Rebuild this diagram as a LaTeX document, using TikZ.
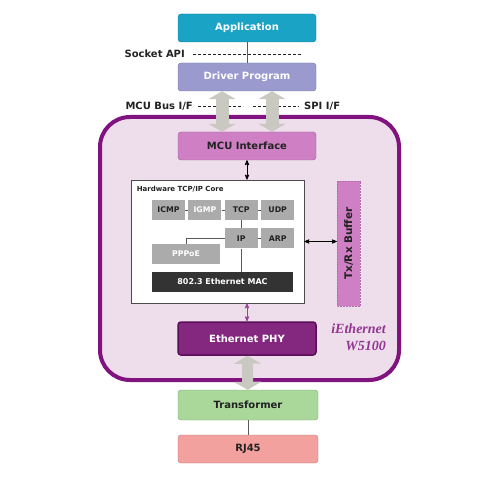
\documentclass[tikz,border=0pt]{standalone}
\usepackage{fontspec}
\setmainfont{DejaVu Sans}
\newfontfamily\logofont{Liberation Serif}
\usetikzlibrary{arrows,arrows.meta,positioning}

\definecolor{appblue}{HTML}{1AA3C4}
\definecolor{drvblue}{HTML}{9A9ACF}
\definecolor{mcupink}{HTML}{CF80C5}
\definecolor{phypurple}{HTML}{84287F}
\definecolor{trgreen}{HTML}{AAD89B}
\definecolor{rjred}{HTML}{F3A19E}
\definecolor{chipline}{HTML}{80137F}
\definecolor{chipfill}{HTML}{EEDDEA}
\definecolor{protogray}{HTML}{ABABAB}
\definecolor{arrowgray}{HTML}{C9C9C2}
\definecolor{textdark}{HTML}{222222}

\tikzset{
  layer/.style={draw=#1!75!black, fill=#1, rounded corners=3pt, minimum width=138pt,
                minimum height=28pt, inner sep=0pt, text=textdark,
                font=\bfseries\fontsize{10}{12}\selectfont},
  proto/.style={fill=protogray, minimum width=33pt, minimum height=20pt, inner sep=0pt,
                text=textdark, font=\bfseries\fontsize{7.8}{9}\selectfont},
  lbl/.style={inner sep=0pt, text=textdark, font=\bfseries\fontsize{10}{12}\selectfont},
  wire/.style={draw=black!65, line width=0.8pt},
  guide/.style={draw=textdark, dashed, dash pattern=on 3pt off 2pt, line width=0.7pt},
  fat/.style={draw=arrowgray, line width=13pt,
              {Triangle[length=8pt,width=27pt]}-{Triangle[length=8pt,width=27pt]}},
  link/.style={<->, line width=0.8pt}
}

\begin{document}
\begin{tikzpicture}[x=1pt,y=-1pt,>=stealth',node distance=3pt]
    \useasboundingbox (0,0) rectangle (500,478);

    % W5100 chip
    \node[draw=chipline, fill=chipfill, line width=4pt, rounded corners=30pt,
          minimum width=299pt, minimum height=263pt] (chip) at (249.5,248.5) {};

    \node[layer=appblue, text=white] (app) at (247,28) {Application};
    \node[layer=drvblue, text=white] (drv) at (247,77) {Driver Program};
    \node[layer=mcupink] (mcu) at (247,146) {MCU Interface};

    % TCP/IP core
    \node[draw=black!70, fill=white, line width=0.8pt, minimum width=173pt,
          minimum height=123pt] (core) at (217.5,241.5) {};
    \node[anchor=north west, inner sep=0pt, text=textdark,
          font=\bfseries\fontsize{7}{8}\selectfont] (coretitle)
          at ([xshift=6pt,yshift=-6pt]core.north west) {Hardware TCP/IP Core};

    \node[proto] (icmp) at (168.5,210) {ICMP};
    \node[proto, text=white] (igmp) [right=of icmp] {IGMP};
    \node[proto] (tcp) [right=of igmp] {TCP};
    \node[proto] (udp) [right=of tcp] {UDP};
    \node[proto] (ip) [below=8pt of tcp] {IP};
    \node[proto] (arp) [right=of ip] {ARP};
    \node[proto, text=white, minimum width=68pt] (pppoe) at (186,254) {PPPoE};
    \node[proto, fill=black!80, text=white, minimum width=141pt,
          font=\bfseries\fontsize{8}{9}\selectfont] (mac) at (222.5,282) {802.3 Ethernet MAC};

    \node[draw=mcupink!85!black, densely dotted, line width=0.5pt, fill=mcupink, rotate=90,
          minimum width=125pt, minimum height=23pt, inner sep=0pt, text=textdark,
          font=\bfseries\fontsize{10.5}{12}\selectfont] (buf) at (348.5,243.5) {Tx/Rx Buffer};

    \node[layer=phypurple, draw=chipline!70!black, line width=1.5pt, text=white,
          minimum height=33pt] (phy) at (247,338.5) {Ethernet PHY};
    \node[align=right, anchor=east, inner sep=0pt, text=chipline!85,
          font=\logofont\bfseries\itshape\fontsize{14}{17}\selectfont] (brand) at (386,337) {iEthernet\\W5100};

    \node[layer=trgreen, minimum width=140pt, minimum height=30pt] (trans) at (248,405) {Transformer};
    \node[layer=rjred, minimum width=140pt] (rj) at (248,449) {RJ45};

    % interface labels
    \node[lbl, anchor=east] (sock) at (185,54) {Socket API};
    \node[lbl, anchor=east] (bus) at (193,106) {MCU Bus I/F};
    \node[lbl, anchor=west] (spi) at (304,106) {SPI I/F};
    \coordinate (sockend) at (302,54);
    \coordinate (busend) at (243,106);
    \coordinate (spistart) at (253,106);

    \draw[guide] ([xshift=8pt]sock.east) -- (sockend);
    \draw[guide] ([xshift=5pt]bus.east) -- (busend);
    \draw[guide] (spistart) -- ([xshift=-5pt]spi.west);

    % connections
    \draw[wire] (app) -- (drv);
    \draw[fat] ([xshift=-25pt]drv.south) -- ([xshift=-25pt]mcu.north);
    \draw[fat] ([xshift=25pt]drv.south) -- ([xshift=25pt]mcu.north);
    \draw[link] (mcu.south) -- (mcu.south |- core.north);
    \draw[link] (core.east) -- (core.east -| buf.north);
    \draw[link, chipline!80] (phy.north |- core.south) -- (phy.north);
    \draw[fat, line width=11pt] (phy) -- (trans);
    \draw[wire] (trans) -- (rj);

    \path[wire] (icmp) edge (igmp)
                (igmp) edge (tcp)
                (tcp) edge (udp)
                (tcp) edge (ip)
                (ip) edge (arp)
                (ip.south) edge (ip.south |- mac.north);
    \draw[wire] (ip.west) -| (pppoe.north);
\end{tikzpicture}
\end{document}
